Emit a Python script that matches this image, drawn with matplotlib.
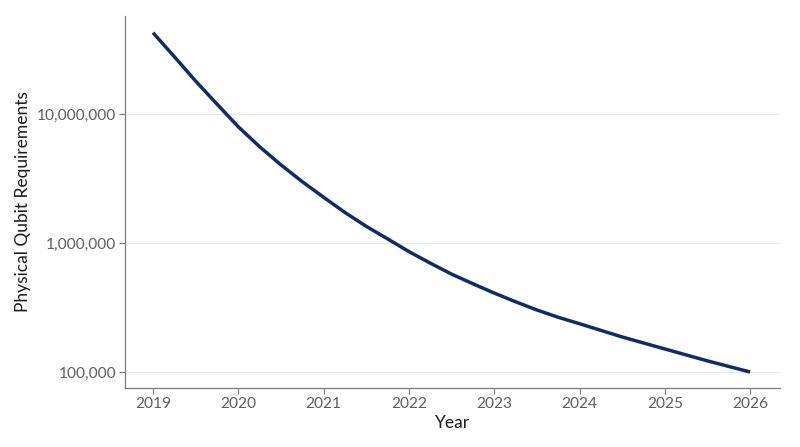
import matplotlib
matplotlib.use("Agg")
import matplotlib.pyplot as plt
from matplotlib.ticker import FuncFormatter, FixedLocator, NullLocator

years = [2019, 2019.25, 2019.5, 2019.75, 2020, 2020.25, 2020.5, 2020.75,
         2021, 2021.25, 2021.5, 2021.75, 2022, 2022.25, 2022.5, 2022.75,
         2023, 2023.25, 2023.5, 2023.75, 2024, 2024.5, 2025, 2025.5, 2026]
qubits = [43_000_000, 28_000_000, 18_100_000, 12_000_000, 8_000_000,
          5_600_000, 4_050_000, 3_000_000, 2_270_000, 1_730_000, 1_350_000,
          1_080_000, 860_000, 700_000, 575_000, 484_000, 410_000, 351_000,
          303_000, 266_000, 237_000, 187_000, 151_000, 122_000, 100_000]
x_ticks = [2019, 2020, 2021, 2022, 2023, 2024, 2025, 2026]
y_ticks = [100_000, 1_000_000, 10_000_000]

plt.rcParams['font.family'] = ['Lato', 'DejaVu Sans']

fig = plt.figure(figsize=(8, 4.47), dpi=100)
ax = fig.add_axes([0.15625, 0.132, 0.975 - 0.15625, 0.964 - 0.132])

ax.plot(years, qubits, color='#112b66', linewidth=2.5,
        solid_capstyle='butt', solid_joinstyle='round')
ax.set_yscale('log')
ax.set_xlim(2018.672, 2026.35)
ax.set_ylim(10**4.876, 10**7.762)

ax.yaxis.set_major_locator(FixedLocator(y_ticks))
ax.yaxis.set_minor_locator(NullLocator())
ax.yaxis.set_major_formatter(FuncFormatter(lambda v, p: f"{int(round(v)):,}"))
ax.set_xticks(x_ticks)
ax.set_xticklabels([str(t) for t in x_ticks])

ax.grid(axis='y', color='#e8e8e8', linewidth=0.8)
ax.set_axisbelow(True)
for s in ['top', 'right']:
    ax.spines[s].set_visible(False)
for s in ['left', 'bottom']:
    ax.spines[s].set_color('#7a7a7a')
    ax.spines[s].set_linewidth(0.9)

ax.tick_params(axis='both', colors='#7a7a7a', length=4, width=0.8,
               labelsize=11.2, labelcolor='#5e5e5e', pad=2.5)

ax.set_xlabel('Year', fontsize=12.5, color='#1a1a1a', labelpad=3)
ax.set_ylabel('Physical Qubit Requirements', fontsize=12.5, color='#1a1a1a', labelpad=4)

fig.savefig('out.png', dpi=100, facecolor='white')
